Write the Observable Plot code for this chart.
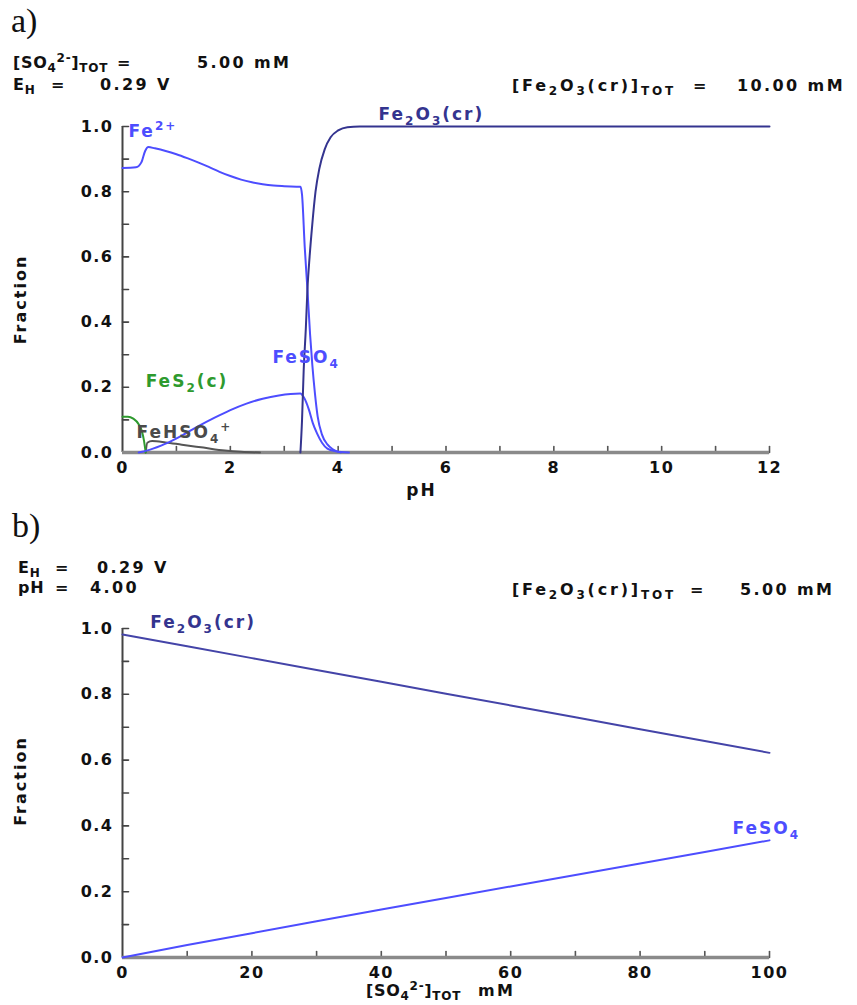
<!DOCTYPE html>
<html><head><meta charset="utf-8">
<script src="https://cdn.jsdelivr.net/npm/d3@7"></script>
<script src="https://cdn.jsdelivr.net/npm/@observablehq/plot@0.6"></script>
<style>
body{margin:0;background:#fff;}
#page{position:relative;width:857px;height:1005px;overflow:hidden;background:#fff;font-family:"DejaVu Sans",Verdana,sans-serif;}
.hdr{position:absolute;font-weight:bold;font-size:16px;line-height:16px;white-space:pre;color:#111;letter-spacing:2.4px;}
.hdr.lab{letter-spacing:0.7px;}
.hdr.wide{letter-spacing:2.8px;}
.hdr sub{font-size:12px;vertical-align:-4px;line-height:0;}
.hdr sup{font-size:12px;vertical-align:6px;line-height:0;}
.plab{position:absolute;font-family:"Liberation Serif","Times New Roman",serif;font-size:34px;line-height:34px;color:#111;}
.chart{position:absolute;left:0;}
.chart svg text{letter-spacing:1.5px;}
.chart svg g[aria-label="text"] text{letter-spacing:2px;}
</style></head><body><div id="page">
<div class="plab" style="left:11px;top:4px">a)</div>
<div class="hdr lab" style="left:13px;top:55px">[SO<sub>4</sub><sup>2-</sup>]<sub>TOT</sub></div>
<div class="hdr" style="left:117px;top:55px">=</div>
<div class="hdr" style="left:197px;top:55px">5.00 mM</div>
<div class="hdr lab" style="left:13px;top:77px">E<sub>H</sub></div>
<div class="hdr" style="left:51px;top:77px">=</div>
<div class="hdr" style="left:100px;top:77px">0.29 V</div>
<div class="hdr wide" style="left:512px;top:78px">[Fe<sub>2</sub>O<sub>3</sub>(cr)]<sub>TOT</sub></div>
<div class="hdr" style="left:693px;top:78px">=</div>
<div class="hdr" style="left:737px;top:78px">10.00 mM</div>
<div id="chartA" class="chart" style="top:100px"></div>
<div class="plab" style="left:12px;top:509px">b)</div>
<div class="hdr lab" style="left:18px;top:560px">E<sub>H</sub></div>
<div class="hdr" style="left:55px;top:560px">=</div>
<div class="hdr" style="left:97px;top:560px">0.29 V</div>
<div class="hdr lab" style="left:18px;top:580px">pH</div>
<div class="hdr" style="left:55px;top:580px">=</div>
<div class="hdr" style="left:90px;top:580px">4.00</div>
<div class="hdr wide" style="left:512px;top:582px">[Fe<sub>2</sub>O<sub>3</sub>(cr)]<sub>TOT</sub></div>
<div class="hdr" style="left:690px;top:582px">=</div>
<div class="hdr" style="left:740px;top:582px">5.00 mM</div>
<div id="chartB" class="chart" style="top:600px"></div>
<div class="hdr lab" style="left:366px;top:983px">[SO<sub>4</sub><sup>2-</sup>]<sub>TOT</sub></div>
<div class="hdr" style="left:478px;top:983px">mM</div>
</div>
<script>
// ---------- Panel a data (fraction vs pH) ----------
const fe2pH   = [0, 0.25, 0.35, 0.42, 0.48, 0.6, 0.8, 1.0, 1.2, 1.4, 1.6, 1.8, 2.0, 2.2, 2.4, 2.6, 2.8, 3.0, 3.3, 3.33, 3.38, 3.43, 3.48, 3.52, 3.57, 3.62, 3.7, 3.8, 3.9, 4.05];
const fe2Frac = [0.873, 0.875, 0.89, 0.925, 0.937, 0.933, 0.925, 0.915, 0.903, 0.89, 0.876, 0.861, 0.848, 0.837, 0.829, 0.823, 0.819, 0.817, 0.815, 0.79, 0.63, 0.5, 0.36, 0.27, 0.18, 0.11, 0.055, 0.025, 0.01, 0];

const feso4pH   = [0.3, 0.5, 0.8, 1.1, 1.4, 1.7, 2.0, 2.3, 2.6, 2.9, 3.3, 3.36, 3.46, 3.53, 3.61, 3.7, 3.8, 3.95, 4.2];
const feso4Frac = [0, 0.008, 0.027, 0.052, 0.08, 0.106, 0.13, 0.15, 0.165, 0.175, 0.181, 0.17, 0.13, 0.09, 0.058, 0.03, 0.012, 0.004, 0];

const fes2pH   = [0, 0.1, 0.2, 0.3, 0.36, 0.4, 0.43];
const fes2Frac = [0.11, 0.11, 0.104, 0.087, 0.065, 0.035, 0];

const fehso4pH   = [0.43, 0.46, 0.55, 0.8, 1.1, 1.5, 1.9, 2.2, 2.55];
const fehso4Frac = [0, 0.03, 0.035, 0.031, 0.024, 0.015, 0.006, 0.002, 0];

const fe2o3pH   = [3.3, 3.33, 3.36, 3.4, 3.43, 3.47, 3.52, 3.58, 3.65, 3.75, 3.86, 4.0, 4.17, 4.4, 12];
const fe2o3Frac = [0, 0.1, 0.25, 0.38, 0.5, 0.6, 0.7, 0.8, 0.87, 0.93, 0.967, 0.988, 0.998, 1.0, 1.0];

// ---------- Panel b data (fraction vs [SO4]tot, mM) ----------
const so4mM      = [0, 10, 20, 30, 40, 50, 60, 70, 80, 90, 100];
const fe2o3BFrac = [0.982, 0.946, 0.91, 0.874, 0.838, 0.802, 0.766, 0.73, 0.694, 0.658, 0.622];
const feso4BFrac = [0, 0.038, 0.074, 0.110, 0.146, 0.181, 0.216, 0.251, 0.286, 0.321, 0.356];

// ---------- ticks ----------
const phTicks   = [0, 2, 4, 6, 8, 10, 12];
const phMinor   = [1, 2, 3, 4, 5, 6, 7, 8, 9, 10, 11, 12];
const so4Ticks  = [0, 20, 40, 60, 80, 100];
const so4Minor  = [10, 20, 30, 40, 50, 60, 70, 80, 90, 100];
const fracTicks = [0, 0.2, 0.4, 0.6, 0.8, 1.0];
const fracMinor = [0.1, 0.2, 0.3, 0.4, 0.5, 0.6, 0.7, 0.8, 0.9, 1.0];

// ---------- curve labels (_{} subscript, ^{} superscript) ----------
const labelsA = [
  {t: "Fe_{2}O_{3}(cr)", x: 4.75, y: 1.037, c: "#34348f"},
  {t: "Fe^{2+}",         x: 0.11, y: 0.985, c: "#4d4dff"},
  {t: "FeSO_{4}",        x: 2.78, y: 0.29,  c: "#4d4dff"},
  {t: "FeS_{2}(c)",      x: 0.43, y: 0.218, c: "#2e9a2e"},
  {t: "FeHSO_{4}^{+}",   x: 0.26, y: 0.061, c: "#4a4a4a"}
];
const labelsB = [
  {t: "Fe_{2}O_{3}(cr)", x: 4.3,  y: 1.018, c: "#34348f"},
  {t: "FeSO_{4}",        x: 94.3, y: 0.392, c: "#4d4dff"}
];

const BLUE = "#4d4dff", NAVY = "#34348f", GREEN = "#2e9a2e";
const FONT = "'DejaVu Sans', Verdana, sans-serif";
const LABEL_FS = 17;

const zip = (xs, ys) => xs.map((x, i) => ({x, y: ys[i]}));
const tickShape = {draw(ctx, l) { ctx.moveTo(0, 0); ctx.lineTo(0, -l); }};
const style = {fontFamily: FONT, fontSize: "16px", fontWeight: "bold", background: "white", color: "#111"};

function frame(xTicks, xMinor) {
  return [
    Plot.axisX({ticks: xTicks, tickSize: 0, tickPadding: 9, label: null, fontSize: 16}),
    Plot.axisY({ticks: fracTicks, tickSize: 0, tickPadding: 9, tickFormat: d3.format(".1f"), label: null, fontSize: 16}),
    Plot.vector(xMinor, {x: d => d, y: 0, length: 6, anchor: "start", shape: tickShape, stroke: "#555", strokeWidth: 1.6}),
    Plot.vector(fracMinor, {x: 0, y: d => d, length: 6, rotate: 90, anchor: "start", shape: tickShape, stroke: "#444", strokeWidth: 1.6}),
    Plot.ruleX([0], {y1: 0, y2: 1, stroke: "#444", strokeWidth: 2}),
    Plot.ruleY([0], {stroke: "#8a8a8a", strokeWidth: 3.5})
  ];
}

// turn _{..} / ^{..} markup in SVG text into real sub/superscript tspans
function richify(svg, fs) {
  const NS = "http://www.w3.org/2000/svg";
  svg.querySelectorAll("text").forEach(t => {
    const s = t.textContent;
    if (!/[_^]\{/.test(s)) return;
    while (t.firstChild) t.removeChild(t.firstChild);
    let cur = 0, m;
    const re = /([_^])\{([^}]*)\}|([^_^]+)/g;
    while ((m = re.exec(s))) {
      const ts = document.createElementNS(NS, "tspan");
      let target = 0;
      if (m[3] !== undefined) ts.textContent = m[3];
      else {
        ts.textContent = m[2];
        ts.setAttribute("font-size", Math.round(fs * 0.72));
        target = m[1] === "_" ? fs * 0.28 : -fs * 0.4;
      }
      if (target !== cur) { ts.setAttribute("dy", (target - cur).toFixed(1)); cur = target; }
      t.appendChild(ts);
    }
  });
  return svg;
}

const lineOpts = (c) => ({x: "x", y: "y", stroke: c, strokeWidth: 2, curve: "monotone-x"});
const labelOpts = {x: "x", y: "y", text: "t", fill: "c", textAnchor: "start", fontSize: LABEL_FS, fontWeight: "bold", fontFamily: FONT};

const chartA = Plot.plot({
  width: 857, height: 410,
  marginLeft: 122, marginRight: 88, marginTop: 26, marginBottom: 58,
  x: {domain: [0, 12]}, y: {domain: [0, 1]},
  style,
  marks: [
    ...frame(phTicks, phMinor),
    Plot.line(zip(fehso4pH, fehso4Frac), lineOpts("#555")),
    Plot.line(zip(fes2pH, fes2Frac), lineOpts(GREEN)),
    Plot.line(zip(feso4pH, feso4Frac), lineOpts(BLUE)),
    Plot.line(zip(fe2pH, fe2Frac), lineOpts(BLUE)),
    Plot.line(zip(fe2o3pH, fe2o3Frac), lineOpts(NAVY)),
    Plot.text(labelsA, labelOpts),
    Plot.text(["pH"], {frameAnchor: "bottom-left", textAnchor: "middle", dx: 299, dy: 43, fontSize: 17, fontWeight: "bold"}),
    Plot.text(["Fraction"], {frameAnchor: "left", textAnchor: "middle", dx: -102, dy: 10, rotate: -90, fontSize: 16, fontWeight: "bold"})
  ]
});
document.getElementById("chartA").append(richify(chartA, LABEL_FS));

const chartB = Plot.plot({
  width: 857, height: 405,
  marginLeft: 122, marginRight: 88, marginTop: 28, marginBottom: 48,
  x: {domain: [0, 100]}, y: {domain: [0, 1]},
  style,
  marks: [
    ...frame(so4Ticks, so4Minor),
    Plot.line(zip(so4mM, fe2o3BFrac), {x: "x", y: "y", stroke: "#4444a8", strokeWidth: 2}),
    Plot.line(zip(so4mM, feso4BFrac), {x: "x", y: "y", stroke: BLUE, strokeWidth: 2}),
    Plot.text(labelsB, labelOpts),
    Plot.text(["Fraction"], {frameAnchor: "left", textAnchor: "middle", dx: -102, dy: -12, rotate: -90, fontSize: 16, fontWeight: "bold"})
  ]
});
document.getElementById("chartB").append(richify(chartB, LABEL_FS));
</script>
</body></html>
